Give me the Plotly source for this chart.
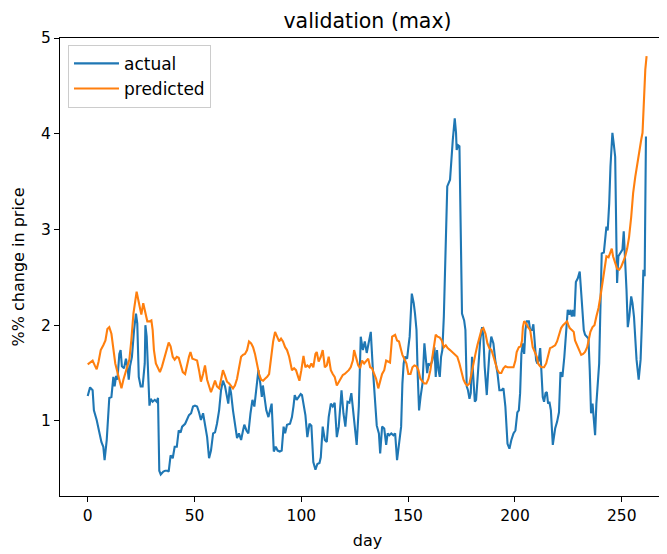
import plotly.graph_objects as go

actual_day = [0.0, 1.1, 2.3, 2.9, 4.2, 5.4, 6.4, 7.3, 7.9, 8.9, 10.1, 11.1, 12.0, 12.6, 13.3, 13.9, 14.8, 15.4, 16.0, 17.0,
              17.9, 18.6, 19.2, 19.8, 20.7, 21.7, 22.6, 23.2, 23.9, 24.8, 25.7, 26.7, 27.0, 27.6, 28.2, 28.9, 29.5, 30.4,
              31.4, 32.3, 32.9, 33.5, 34.2, 35.4, 36.3, 37.3, 37.9, 38.8, 39.8, 40.7, 41.7, 42.6, 43.5, 44.2,
              45.6, 46.5, 47.4, 48.4, 49.3, 50.2, 51.2, 52.1, 53.0, 54.0, 54.9, 55.9, 56.8, 57.7, 58.7, 59.6, 60.5,
              61.5, 62.4, 63.3, 64.3, 65.2, 65.8, 66.5, 67.1, 68.0, 68.9, 69.9, 70.8, 71.8, 72.7, 73.3, 74.3, 75.2,
              76.2, 77.1, 78.0, 79.0, 79.9, 80.8, 81.5, 82.0, 82.7, 83.6, 84.6, 85.5, 86.1, 87.1, 88.0, 88.9, 89.9,
              90.8, 91.7, 92.4, 93.3,
              94.7, 95.6, 96.3, 96.9, 97.8, 98.8, 99.7, 100.3, 101.0, 101.9, 102.8, 103.8, 104.7, 105.6, 106.6, 107.5,
              108.5, 109.1, 110.0, 111.0, 111.9, 112.8, 113.8, 114.7, 115.6, 116.6, 117.5, 118.1, 118.8, 119.7, 120.6,
              121.6, 122.5, 123.4, 124.4, 125.3, 125.9, 126.9, 127.8, 128.8, 129.7, 130.6, 131.6, 132.5, 133.4, 134.4,
              135.3, 136.3, 136.9, 137.8, 138.8, 139.7, 140.4, 141.2, 142.1, 143.1,
              143.9, 144.8, 145.7, 146.7, 147.3, 147.9, 148.5, 149.5, 150.1, 150.7, 151.7, 152.6, 153.2, 153.9, 154.5,
              155.1, 155.8, 156.7, 157.6, 158.2, 158.9, 159.5, 160.4, 161.3, 162.3, 162.9, 163.5, 164.2, 164.8, 165.4,
              166.0, 166.7, 167.3, 168.3,
              169.6, 170.2, 170.9, 171.8, 172.4, 172.7, 173.4, 174.0, 174.6, 175.2, 176.2, 176.8, 177.4, 178.0, 178.7,
              179.3, 179.9, 180.5, 181.2, 181.8, 182.4, 183.0, 183.7, 184.6, 185.2, 185.8, 186.8, 187.4, 188.0, 188.9,
              189.9, 190.8, 191.8, 192.7, 193.6, 194.6, 195.5, 196.5, 197.4, 198.3, 199.3, 200.2, 201.1, 201.8, 202.4,
              203.0, 203.7, 204.3, 204.9, 205.5, 206.5, 207.1, 208.0, 208.6, 209.3, 209.9, 210.5, 211.1, 211.8, 212.4,
              213.0, 213.6, 214.3, 214.9, 215.5, 216.1, 216.8, 217.7,
              218.8, 219.7, 220.6, 221.3, 222.2, 223.1, 224.1, 224.7, 225.4, 226.0, 226.6, 227.2, 227.8, 228.5, 229.4,
              230.3, 230.9, 231.6, 232.2, 232.8, 233.8, 234.4, 235.0, 235.6, 236.3, 236.9, 237.5, 238.1, 238.8, 239.4,
              240.0, 240.6, 241.6, 242.2, 242.8, 243.4, 244.1, 244.7, 245.6, 246.2, 246.9, 247.5, 247.8, 248.4, 249.4,
              250.3, 250.9, 251.6, 252.2, 252.8, 253.5, 254.4, 255.0, 255.7, 256.3, 256.9, 257.9, 258.8, 259.4, 260.1,
              260.7, 261.3]
actual_val = [1.26, 1.35, 1.32, 1.11, 1.01, 0.87, 0.78, 0.73, 0.59, 0.80, 1.24, 1.25, 1.46, 1.36, 1.47, 1.43, 1.70, 1.74, 1.57, 1.55,
              1.65, 1.57, 1.43, 1.57, 1.67, 1.95, 2.12, 2.02, 1.46, 1.36, 1.36, 1.60, 2.00, 1.88, 1.57, 1.16, 1.23, 1.20,
              1.22, 1.20, 1.24, 0.48, 0.44, 0.47, 0.48, 0.48, 0.47, 0.64, 0.61, 0.73, 0.73, 0.90, 0.88, 0.94,
              0.97, 1.01, 1.06, 1.08, 1.15, 1.16, 1.15, 1.09, 1.01, 1.08, 0.97, 0.83, 0.61, 0.69, 0.87, 0.88, 0.97,
              1.11, 1.32, 1.42, 1.36, 1.25, 1.18, 1.36, 1.29, 1.11, 0.97, 0.82, 0.87, 0.80, 0.90, 0.96, 0.90, 0.87,
              1.08, 1.22, 1.15, 1.32, 1.53, 1.39, 1.25, 1.37, 1.25, 1.11, 1.04, 1.15, 1.18, 0.68, 0.73, 0.69, 0.68,
              0.69, 0.94, 0.87, 0.96,
              0.97, 1.04, 1.15, 1.27, 1.22, 1.25, 1.28, 1.27, 1.18, 1.06, 0.83, 0.97, 0.95, 0.57, 0.49, 0.55,
              0.56, 0.62, 0.94, 0.80, 0.78, 1.04, 1.18, 1.15, 1.19, 0.83, 0.94, 1.18, 1.32, 1.08, 0.94,
              1.20, 1.19, 1.29, 1.04, 0.87, 0.75, 1.15, 1.88, 1.74, 1.83, 1.71, 1.85, 1.93, 1.57, 1.25,
              0.95, 0.87, 0.66, 0.94, 0.92, 0.75, 0.87, 0.85, 0.87, 0.85,
              0.87, 0.59, 0.73, 0.94, 1.39, 1.60, 1.67, 1.65, 1.77, 1.88, 2.33, 2.23, 2.12, 1.95, 1.46,
              1.11, 1.25, 1.39, 1.81, 1.67, 1.50, 1.60, 1.58, 1.63, 1.77, 1.46, 1.74, 1.53, 1.46, 1.67,
              1.74, 2.09, 2.58, 3.45,
              3.52, 3.73, 3.94, 4.16, 4.01, 3.83, 3.88, 3.87, 2.96, 2.12, 2.05, 1.95, 1.36, 1.32, 1.23,
              1.29, 1.67, 1.39, 1.20, 1.22, 1.43, 1.67, 1.84, 1.98, 1.88, 1.57, 1.27, 1.50, 1.70, 1.88,
              1.81, 1.63, 1.50, 1.32, 1.32, 1.34, 1.15, 0.76, 0.71, 0.80, 0.87, 0.90, 1.09, 1.11, 1.29,
              1.70, 1.81, 1.70, 1.95, 2.04, 2.04, 1.95, 1.95, 2.01, 1.84, 1.63, 1.60, 1.63, 1.76, 1.50,
              1.25, 1.20, 1.29, 1.30, 1.18, 1.20, 1.11, 0.75,
              0.92, 0.99, 1.09, 1.51, 1.46, 1.67, 1.95, 2.16, 2.11, 2.16, 2.09, 2.16, 2.09, 2.45, 2.49,
              2.56, 2.37, 2.12, 1.95, 1.90, 1.88, 1.86, 1.53, 1.08, 1.18, 1.04, 0.85, 1.18, 1.39, 1.60,
              2.19, 2.75, 2.76, 2.92, 3.03, 2.99, 3.27, 3.66, 4.01, 3.90, 3.76, 2.82, 2.44, 2.72, 2.75,
              2.79, 2.98, 2.72, 2.37, 1.98, 2.09, 2.30, 2.23, 2.09, 1.84, 1.64, 1.43, 1.64, 2.02, 2.58,
              2.51, 3.97]

predicted_day = [0.0, 1.1, 2.3, 3.3, 4.2, 5.1, 6.1, 7.3, 8.3, 9.2, 10.1, 11.1, 12.0, 12.9, 13.9, 14.8, 15.8, 16.7, 17.6, 18.6,
                 19.5, 20.4, 21.4, 22.3, 22.9, 23.9, 24.5, 25.1, 26.0, 27.0, 27.9, 28.9, 29.8, 30.4, 31.0, 31.9, 32.9,
                 33.8, 34.8, 35.7, 36.7, 37.9, 38.8, 39.8, 40.7, 41.7, 42.6, 43.5, 44.5,
                 45.6, 46.5, 47.4, 48.1, 49.0, 50.2, 51.2, 52.1, 53.0, 54.0, 54.9, 55.9, 56.8, 57.7, 58.7, 59.6, 60.5,
                 61.5, 62.4, 63.3, 64.3, 65.2, 66.2, 67.1, 68.0, 68.9, 69.9, 70.8, 71.8, 72.7, 73.6, 74.6, 75.5, 76.5,
                 77.4, 78.3, 79.3, 80.2, 81.2, 82.1, 83.0, 84.0, 84.9, 85.8, 86.8, 87.7, 88.7, 89.6, 90.5, 91.4, 92.4,
                 93.3, 94.3,
                 95.6, 96.6, 97.5, 98.5, 99.1, 100.0, 101.0, 101.9, 102.8, 103.8, 104.7, 105.6, 106.6, 107.2, 108.1,
                 109.1, 110.0, 111.0, 111.9, 112.8, 113.8, 114.7, 115.6, 116.6, 117.5, 118.5, 119.4, 120.3, 121.3,
                 122.2, 123.1, 124.1, 124.7, 125.6, 126.6, 127.5, 128.4, 129.4, 130.3, 131.3, 132.2, 133.1, 134.1,
                 135.0, 136.0, 136.9, 137.8, 138.8, 139.7, 140.6, 141.5, 142.5,
                 143.9, 144.8, 145.7, 146.7, 147.3, 148.2, 149.2, 150.1, 151.1, 152.0, 152.9, 153.9, 154.8, 155.7,
                 156.7, 157.6, 158.5, 159.5, 160.4, 161.3, 162.3, 162.9, 163.8, 164.8, 165.7, 166.7, 167.6, 168.5,
                 169.6, 170.6, 171.5, 172.4, 173.0, 174.0, 174.9, 175.9, 176.8, 177.7, 178.7, 179.6, 180.5, 181.5,
                 182.4, 183.4, 184.3, 185.2, 186.2, 187.1, 188.0, 189.0, 189.9, 190.8, 191.8, 192.7, 193.6, 194.6,
                 195.5, 196.5, 197.4, 198.3, 199.3, 200.2, 200.8, 201.8, 202.7, 203.3, 203.7, 204.3, 205.2, 206.1,
                 207.1, 207.7, 208.3, 208.9, 209.6, 210.2, 210.8, 211.8, 212.7, 213.6, 214.6, 215.5, 216.4, 217.4,
                 218.8, 219.7, 220.6, 221.6, 222.5, 223.5, 224.4, 225.0, 225.6, 226.6, 227.5, 228.1, 229.1, 230.0,
                 231.0, 231.9, 232.8, 233.8, 234.4, 235.3, 236.3, 237.2, 238.1, 239.1, 240.0, 240.9, 241.9, 242.8,
                 243.8, 244.7, 245.3, 245.9, 246.9, 247.8, 248.8, 249.7, 250.6, 251.6, 252.5, 253.4, 254.4, 255.3,
                 256.3, 257.2, 258.1, 259.1, 259.7, 260.3, 261.0, 261.6]
predicted_val = [1.59, 1.61, 1.63, 1.58, 1.54, 1.62, 1.74, 1.79, 1.84, 1.96, 1.98, 1.91, 1.77, 1.60, 1.51, 1.43, 1.34, 1.43, 1.50, 1.57,
                 1.64, 1.84, 2.12, 2.26, 2.35, 2.24, 2.16, 2.11, 2.23, 2.14, 2.04, 2.04, 2.05, 1.95, 1.74, 1.60, 1.55,
                 1.51, 1.57, 1.65, 1.74, 1.82, 1.78, 1.67, 1.64, 1.67, 1.66, 1.58, 1.51,
                 1.49, 1.60, 1.67, 1.72, 1.65, 1.64, 1.63, 1.53, 1.41, 1.49, 1.58, 1.43, 1.36, 1.30, 1.36, 1.42, 1.36,
                 1.34, 1.43, 1.53, 1.47, 1.41, 1.39, 1.36, 1.34, 1.37, 1.44, 1.55, 1.67, 1.69, 1.70, 1.74, 1.83, 1.81,
                 1.77, 1.70, 1.60, 1.49, 1.43, 1.42, 1.44, 1.46, 1.49, 1.67, 1.83, 1.93, 1.88, 1.83, 1.86, 1.83, 1.77,
                 1.74, 1.67,
                 1.53, 1.55, 1.53, 1.46, 1.42, 1.53, 1.68, 1.56, 1.58, 1.56, 1.60, 1.56, 1.70, 1.72, 1.62,
                 1.67, 1.74, 1.56, 1.58, 1.67, 1.53, 1.49, 1.46, 1.37, 1.41, 1.44, 1.48, 1.49, 1.51,
                 1.53, 1.56, 1.63, 1.74, 1.67, 1.58, 1.55, 1.63, 1.60, 1.63, 1.65, 1.56, 1.55, 1.49,
                 1.44, 1.34, 1.43, 1.49, 1.53, 1.63, 1.62, 1.61, 1.88,
                 1.90, 1.84, 1.83, 1.74, 1.69, 1.65, 1.60, 1.49, 1.49, 1.56, 1.58, 1.57, 1.53, 1.44,
                 1.41, 1.39, 1.39, 1.44, 1.53, 1.67, 1.84, 1.90, 1.88, 1.87, 1.84, 1.77, 1.79, 1.76,
                 1.74, 1.72, 1.70, 1.68, 1.67, 1.60, 1.51, 1.43, 1.39, 1.37, 1.39, 1.50, 1.60, 1.70,
                 1.79, 1.88, 1.95, 1.97, 1.91, 1.81, 1.76, 1.74, 1.67, 1.60, 1.53, 1.50, 1.50, 1.55,
                 1.57, 1.56, 1.56, 1.56, 1.56, 1.63, 1.72, 1.77, 1.78, 1.84, 1.98, 2.04, 2.02, 1.98,
                 1.95, 1.86, 1.77, 1.74, 1.70, 1.67, 1.60, 1.57, 1.56, 1.56, 1.60, 1.69, 1.76, 1.77,
                 1.79, 1.83, 1.90, 1.97, 2.00, 2.02, 2.04, 2.00, 1.97, 1.95, 1.93, 1.84, 1.79, 1.74,
                 1.69, 1.70, 1.72, 1.77, 1.84, 1.93, 1.98, 2.00, 2.09, 2.18, 2.30, 2.44, 2.58, 2.72,
                 2.71, 2.77, 2.80, 2.72, 2.65, 2.59, 2.58, 2.61, 2.66, 2.72, 2.80, 2.92, 3.13, 3.38,
                 3.55, 3.69, 3.83, 3.94, 4.01, 4.39, 4.67, 4.81]

x_ticks = [0, 50, 100, 150, 200, 250]
y_ticks = [1, 2, 3, 4, 5]

FONT = "DejaVu Sans"

fig = go.Figure()
fig.add_trace(go.Scatter(x=actual_day, y=actual_val, mode="lines", name="actual",
                         line=dict(color="#1f77b4", width=2.1)))
fig.add_trace(go.Scatter(x=predicted_day, y=predicted_val, mode="lines", name="predicted",
                         line=dict(color="#ff7f0e", width=2.1)))

axis_common = dict(showgrid=False, zeroline=False, showline=True, linecolor="black", linewidth=1,
                   ticks="outside", ticklen=5, tickwidth=1, tickcolor="black", automargin=False,
                   tickfont=dict(family=FONT, size=15.5, color="black"))

fig.update_layout(
    width=667, height=554,
    margin=dict(l=52, r=0, t=30, b=66, autoexpand=False),
    paper_bgcolor="white", plot_bgcolor="white",
    font=dict(family=FONT, size=15.5, color="black"),
    title=dict(text="validation (max)", x=0.5, xref="paper", xanchor="center",
               y=1 - 13 / 554, yref="container", yanchor="middle",
               font=dict(family=FONT, size=20.5, color="black")),
    xaxis=dict(range=[-12.97, 274.9], tickvals=x_ticks, mirror=True,
               title=dict(text="day", font=dict(family=FONT, size=16), standoff=11), **axis_common),
    yaxis=dict(range=[0.2155, 5.0], tickvals=y_ticks, mirror=True,
               title=dict(text="%% change in price", font=dict(family=FONT, size=16), standoff=12), **axis_common),
    legend=dict(x=0.013, y=0.985, xanchor="left", yanchor="top", itemwidth=45,
                bgcolor="rgba(255,255,255,0.8)", bordercolor="#cccccc", borderwidth=1,
                font=dict(family=FONT, size=17, color="black")),
    showlegend=True,
)

fig.write_html("out.html")
